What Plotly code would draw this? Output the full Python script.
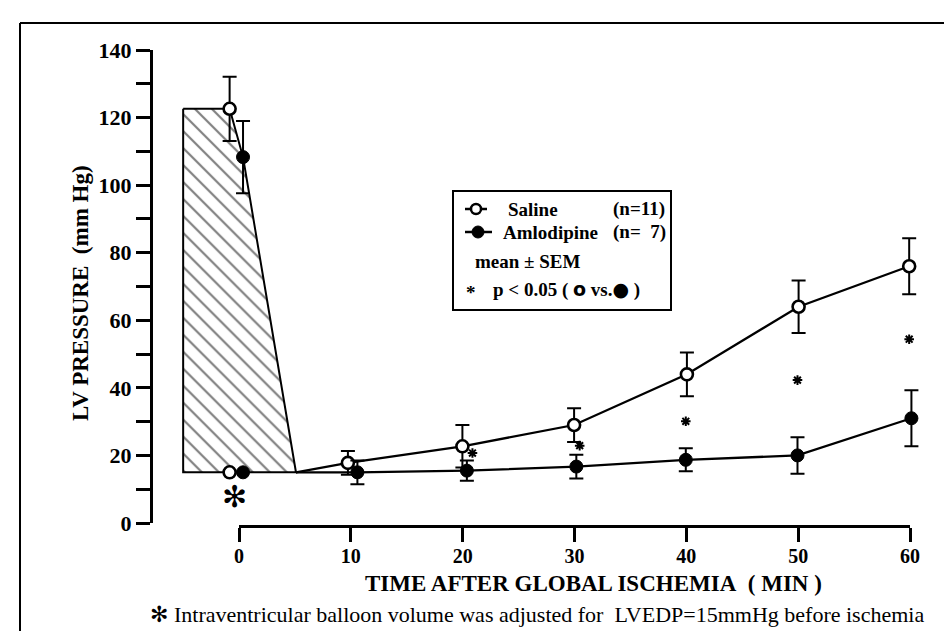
import plotly.graph_objects as go

# ---------------- data ----------------
time_post = [10, 20, 30, 40, 50, 60]
saline_dx = [-0.25, 0.0, 0.0, 0.1, 0.1, 0.0]
amlo_dx = [0.6, 0.4, 0.2, 0.0, 0.0, 0.2]

saline_pre = 122.6
saline_pre_sem = 9.5
amlo_pre = 108.3
amlo_pre_sem = 10.7
lvedp_baseline = 15.0

saline_post = [17.8, 22.7, 29.0, 44.0, 64.0, 76.0]
saline_sem = [3.5, 6.3, 5.0, 6.5, 7.8, 8.3]
amlo_post = [15.0, 15.5, 16.7, 18.7, 20.0, 31.0]
amlo_sem = [3.5, 3.0, 3.5, 3.4, 5.4, 8.3]

sig_times = [20.9, 30.5, 40.0, 50.0, 60.0]
sig_y = [20.7, 22.9, 30.1, 42.3, 54.4]

pre_x_saline = -0.84
pre_x_amlo = 0.36
hatch_left = -5.0
hatch_right = 5.1

y_ticks = list(range(0, 141, 10))
y_ticktext = [str(v) if v % 20 == 0 else "" for v in y_ticks]
x_ticks = [0, 10, 20, 30, 40, 50, 60]

SERIF = "Liberation Serif"

# ---------------- geometry helpers ----------------
W, H = 952, 631
ML, MR, MT, MB = 145, 22, 42, 113
PW, PH = W - ML - MR, H - MT - MB


def px(x):
    return (x - ML) / PW


def py(y):
    return (H - MB - y) / PH


fig = go.Figure()

# hatched pre-ischemia region
fig.add_trace(go.Scatter(
    x=[hatch_left, pre_x_saline, pre_x_amlo, hatch_right, hatch_left, hatch_left],
    y=[saline_pre, saline_pre, amlo_pre, lvedp_baseline, lvedp_baseline, saline_pre],
    mode="lines", fill="toself", fillcolor="white",
    fillpattern=dict(shape="\\", fgcolor="black", bgcolor="white", size=12, solidity=0.18),
    line=dict(color="black", width=2), hoverinfo="skip"))

saline_x = [t + d for t, d in zip(time_post, saline_dx)]
amlo_x = [t + d for t, d in zip(time_post, amlo_dx)]

# connecting lines
fig.add_trace(go.Scatter(x=[hatch_right] + saline_x, y=[lvedp_baseline] + saline_post,
                         mode="lines", line=dict(color="black", width=2.3)))
fig.add_trace(go.Scatter(x=[hatch_right] + amlo_x, y=[lvedp_baseline] + amlo_post,
                         mode="lines", line=dict(color="black", width=2.3)))

# saline markers with SEM
fig.add_trace(go.Scatter(
    x=[pre_x_saline] + saline_x, y=[saline_pre] + saline_post,
    mode="markers",
    error_y=dict(type="data", array=[saline_pre_sem] + saline_sem, color="black", thickness=2, width=7),
    marker=dict(symbol="circle", size=12, color="white", line=dict(color="black", width=2.6))))
fig.add_trace(go.Scatter(
    x=[pre_x_saline], y=[lvedp_baseline], mode="markers",
    marker=dict(symbol="circle", size=12, color="white", line=dict(color="black", width=2.6))))

# amlodipine markers with SEM
fig.add_trace(go.Scatter(
    x=[pre_x_amlo] + amlo_x, y=[amlo_pre] + amlo_post,
    mode="markers",
    error_y=dict(type="data", array=[amlo_pre_sem] + amlo_sem, color="black", thickness=2, width=7),
    marker=dict(symbol="circle", size=13, color="black", line=dict(color="black", width=1))))
fig.add_trace(go.Scatter(
    x=[pre_x_amlo], y=[lvedp_baseline], mode="markers",
    marker=dict(symbol="circle", size=13, color="black", line=dict(color="black", width=1))))

# significance asterisks
fig.add_trace(go.Scatter(
    x=sig_times, y=sig_y, mode="markers",
    marker=dict(symbol="asterisk-open", size=8, color="black", line=dict(color="black", width=2))))

# helper trace for the detached time axis
fig.add_trace(go.Scatter(x=[0, 60], y=[0, 0], xaxis="x2", yaxis="y", mode="markers",
                         marker=dict(opacity=0), hoverinfo="skip"))


def ann(text, x, y, size=19, xanchor="left", family=SERIF, **kw):
    d = dict(text=text, x=px(x), y=py(y), xref="paper", yref="paper", showarrow=False,
             xanchor=xanchor, yanchor="middle", font=dict(family=family, size=size, color="black"))
    d.update(kw)
    return d


annotations = [
    ann("<b>LV PRESSURE\u00a0\u00a0(mm Hg)</b>", 72, 285, size=23, xanchor="center", textangle=-90),
    ann("<b>TIME AFTER GLOBAL ISCHEMIA\u00a0\u00a0( MIN )</b>", 585, 575, size=23, xanchor="center"),
    ann("<span style='font-family:DejaVu Sans'>✻</span> Intraventricular balloon volume was adjusted for\u00a0\u00a0LVEDP=15mmHg before ischemia",
        140, 606, size=22),
    dict(text="✻", x=-0.36, y=7.7, xref="x", yref="y", showarrow=False, xanchor="center", yanchor="middle",
         font=dict(family="DejaVu Sans", size=30, color="black")),
    # legend texts
    ann("<b>Saline</b>", 498, 201),
    ann("<b>(n=11)</b>", 603, 201),
    ann("<b>Amlodipine</b>", 493, 224),
    ann("<b>(n=\u00a0\u00a07)</b>", 603, 224),
    ann("<b>mean ± SEM</b>", 465, 253),
    ann("<b>*</b>", 456, 284),
    ann("<b>p < 0.05 ( <span style='font-family:DejaVu Sans'>o</span> vs.<span style='font-family:DejaVu Sans'>●</span> )</b>",
        483, 281),
]

shapes = [
    # page frame (top and left edges)
    dict(type="line", xref="paper", yref="paper", x0=px(12), x1=px(952), y0=py(15), y1=py(15),
         line=dict(color="black", width=2)),
    dict(type="line", xref="paper", yref="paper", x0=px(12), x1=px(12), y0=py(15), y1=py(631),
         line=dict(color="black", width=2)),
    # legend box
    dict(type="rect", xref="paper", yref="paper", x0=px(445), x1=px(663), y0=py(183), y1=py(302),
         line=dict(color="black", width=2)),
    # legend line samples
    dict(type="line", xref="paper", yref="paper", x0=px(457), x1=px(479), y0=py(201), y1=py(201),
         line=dict(color="black", width=2.5)),
    dict(type="line", xref="paper", yref="paper", x0=px(457), x1=px(484), y0=py(224), y1=py(224),
         line=dict(color="black", width=2.5)),
    dict(type="circle", xref="paper", yref="paper", xsizemode="pixel", ysizemode="pixel",
         xanchor=px(468), yanchor=py(201), x0=-5, x1=5, y0=-5, y1=5,
         fillcolor="white", line=dict(color="black", width=2.5)),
    dict(type="circle", xref="paper", yref="paper", xsizemode="pixel", ysizemode="pixel",
         xanchor=px(470), yanchor=py(224), x0=-6, x1=6, y0=-6, y1=6,
         fillcolor="black", line=dict(color="black", width=1)),
]

fig.update_layout(
    width=W, height=H,
    margin=dict(l=ML, r=MR, t=MT, b=MB, pad=0),
    paper_bgcolor="white", plot_bgcolor="rgba(0,0,0,0)",
    showlegend=False,
    xaxis=dict(domain=[0, 1], range=[-7.70, 62.58], visible=False),
    yaxis=dict(domain=[3 / PH, 1], range=[0, 140], showline=True, linewidth=3, linecolor="black",
               ticks="outside", ticklen=14, tickwidth=3, tickcolor="black",
               tickvals=y_ticks, ticktext=y_ticktext, showgrid=False, zeroline=False,
               tickfont=dict(family=SERIF, size=22, color="black", weight="bold")),
    xaxis2=dict(domain=[px(231), px(902)], range=[0, 60], anchor="free", position=0,
                showline=True, linewidth=3, linecolor="black",
                ticks="outside", ticklen=14, tickwidth=3, tickcolor="black",
                tickvals=x_ticks, showgrid=False, zeroline=False, ticklabelstandoff=-3,
                tickfont=dict(family=SERIF, size=20, color="black", weight="bold")),
    annotations=annotations,
    shapes=shapes,
)

fig.write_html("out.html")
